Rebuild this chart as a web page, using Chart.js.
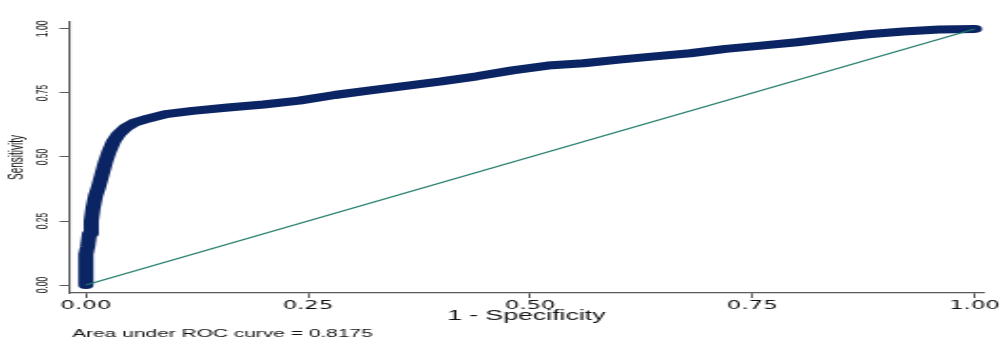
<!DOCTYPE html>
<html>
<head>
<meta charset="utf-8">
<script src="https://cdn.jsdelivr.net/npm/chart.js@4.4.1/dist/chart.umd.min.js"></script>
<style>
  html, body { margin: 0; padding: 0; background: #fff; }
  #roc { display: block; background: #fff; }
</style>
</head>
<body>
<!-- the original export is stretched sideways, so draw narrow and widen with css -->
<canvas id="roc" width="527" height="341" style="width:1002px;height:341px"></canvas>
<script>
// ROC curve: 1 - specificity vs sensitivity
const fpr = [0, 0, 0, 0.002, 0.004, 0.006, 0.008, 0.011, 0.014, 0.018, 0.022, 0.026, 0.031, 0.037,
  0.045, 0.055, 0.07, 0.09, 0.12, 0.16, 0.2, 0.24, 0.28, 0.32, 0.36, 0.4, 0.44, 0.48, 0.52,
  0.56, 0.6, 0.64, 0.68, 0.72, 0.76, 0.8, 0.84, 0.86, 0.88, 0.92, 0.96, 1];
const tpr = [0, 0.05, 0.12, 0.15, 0.2, 0.25, 0.3, 0.35, 0.38, 0.43, 0.48, 0.52, 0.56, 0.59,
  0.615, 0.635, 0.65, 0.667, 0.68, 0.693, 0.705, 0.72, 0.742, 0.76, 0.778, 0.795, 0.815, 0.838, 0.857,
  0.866, 0.88, 0.893, 0.905, 0.922, 0.935, 0.948, 0.964, 0.972, 0.979, 0.99, 0.998, 1];
const diagX = [0, 1];
const diagY = [0, 1];

const xTickValues = [0, 0.25, 0.5, 0.75, 1];
const xTickLabels = ['0.00', '0.25', '0.50', '0.75', '1.00'];
const yTickValues = [0, 0.25, 0.5, 0.75, 1];
const yTickLabels = ['0.00', '0.25', '0.50', '0.75', '1.00'];
const aucNote = 'Area under ROC curve = 0.8175';

const toPoints = (xs, ys) => xs.map((x, i) => ({ x: x, y: ys[i] }));

// note under the x axis, left aligned like the original
const aucLabel = {
  id: 'aucLabel',
  afterDraw(chart) {
    const ctx = chart.ctx;
    ctx.save();
    ctx.font = '11px "Liberation Sans", Arial, sans-serif';
    ctx.fillStyle = '#111';
    ctx.textAlign = 'left';
    ctx.textBaseline = 'middle';
    ctx.fillText(aucNote, 38, 333.5);
    ctx.restore();
  }
};

const ctx = document.getElementById('roc').getContext('2d');
new Chart(ctx, {
  type: 'scatter',
  data: {
    datasets: [
      {
        label: 'reference',
        data: toPoints(diagX, diagY),
        showLine: true,
        borderColor: '#1f7a68',
        borderWidth: 1.2,
        pointRadius: 0
      },
      {
        label: 'ROC',
        data: toPoints(fpr, tpr),
        showLine: true,
        borderColor: '#0b2463',
        borderWidth: 8,
        borderCapStyle: 'round',
        borderJoinStyle: 'round',
        pointRadius: 0
      }
    ]
  },
  options: {
    responsive: false,
    devicePixelRatio: 1,
    animation: false,
    layout: { padding: { left: 0, right: 8.9, top: 22, bottom: 0 } },
    plugins: {
      legend: { display: false },
      tooltip: { enabled: false }
    },
    scales: {
      x: {
        type: 'linear',
        min: -0.019,
        max: 1.01,
        afterBuildTicks: (scale) => { scale.ticks = xTickValues.map(v => ({ value: v })); },
        afterFit: (scale) => { scale.height = 48; },
        border: { display: true, color: '#5a5a5a', width: 1.3 },
        grid: { drawOnChartArea: false, drawTicks: true, tickLength: 5, tickColor: '#5a5a5a', tickWidth: 1 },
        ticks: {
          maxRotation: 0,
          padding: 1,
          color: '#111',
          font: { family: '"DejaVu Sans", sans-serif', size: 12 },
          callback: (v) => xTickLabels[xTickValues.indexOf(v)]
        },
        title: {
          display: true,
          text: '1 - Specificity',
          color: '#111',
          font: { family: '"Liberation Sans", Arial, sans-serif', size: 14, lineHeight: 1 },
          padding: { top: 0, bottom: 17.5 }
        }
      },
      y: {
        type: 'linear',
        min: -0.031,
        max: 1.027,
        afterBuildTicks: (scale) => { scale.ticks = yTickValues.map(v => ({ value: v })); },
        afterFit: (scale) => { scale.width = 36.3; },
        border: { display: true, color: '#5a5a5a', width: 1.1 },
        grid: { drawOnChartArea: false, drawTicks: true, tickLength: 5, tickColor: '#5a5a5a', tickWidth: 1 },
        ticks: {
          minRotation: 90,
          maxRotation: 90,
          crossAlign: 'center',
          padding: 0,
          color: '#111',
          font: { family: '"Liberation Sans", Arial, sans-serif', size: 8.5 },
          callback: (v) => yTickLabels[yTickValues.indexOf(v)]
        },
        title: {
          display: true,
          text: 'Sensitivity',
          color: '#111',
          font: { family: '"Liberation Sans", Arial, sans-serif', size: 10, lineHeight: 1 },
          padding: { top: 4, bottom: 0 }
        }
      }
    }
  },
  plugins: [aucLabel]
});
</script>
</body>
</html>
